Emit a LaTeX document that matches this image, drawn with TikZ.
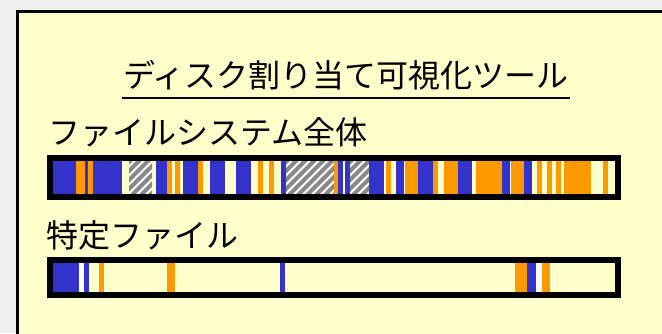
\documentclass[tikz,border=0pt]{standalone}
\usepackage{fontspec}
\usepackage{xcolor}
\newfontfamily\jpfont{Noto Sans CJK JP}
\definecolor{bg-gray}{HTML}{F0F0F0}
\definecolor{pale-yellow}{HTML}{FFFFCC}
\definecolor{used-blue}{HTML}{3333CC}
\definecolor{used-orange}{HTML}{FF9900}
\definecolor{hatch-gray}{HTML}{888888}
\tikzset{
    panel-box/.style = {draw=black, fill=pale-yellow, line width=2.25pt},
    bar-frame/.style = {draw=black, line width=4.5pt},
    seg-blue/.style = {fill=used-blue},
    seg-orange/.style = {fill=used-orange},
    seg-white/.style = {fill=white},
    hatch-line/.style = {draw=hatch-gray, line width=3pt},
    label-text/.style = {font=\jpfont\fontsize{24pt}{28pt}\selectfont, inner sep=0pt},
}

\begin{document}
\begin{tikzpicture}[x=0.75pt, y=-0.75pt]
\useasboundingbox (0,0) rectangle (662,333);
\clip (0,0) rectangle (662,333);
\fill[bg-gray] (0,0) rectangle (662,333);
\draw[panel-box] (17.5,11.5) rectangle (700,360);

% title
\node[label-text, anchor=base] (title) at (346,87) {ディスク割り当て可視化ツール};
\draw[line width=1.5pt] (122,98) -- (570,98);

% whole file system
\node[label-text, anchor=base west] (fs-label) at (48,144) {ファイルシステム全体};
\foreach \a/\b in {53/76, 85/88, 93/122, 156/167, 183/198, 210/225, 236/251, 281/286,
                   338/343, 345/350, 369/384, 396/404, 418/433, 458/472, 502/510, 524/532}
    \fill[seg-blue] (\a,161) rectangle (\b,194);
\foreach \a/\b in {76/85, 88/93, 167/172, 175/180, 198/203, 258/263, 269/274, 334/338,
                   386/391, 405/418, 433/438, 444/458, 476/502, 511/524, 537/542,
                   547/552, 556/561, 564/591, 603/608}
    \fill[seg-orange] (\a,161) rectangle (\b,194);
\foreach \a/\b in {384/386, 404/405, 510/511}
    \fill[seg-white] (\a,161) rectangle (\b,194);
\foreach \a/\b in {129/152, 286/334, 350/369} {
    \begin{scope}
        \clip (\a,161) rectangle (\b,194);
        \fill[seg-white] (\a,161) rectangle (\b,194);
        \foreach \k in {-45,-36,...,54}
            \draw[hatch-line] (\a+\k,198) -- ++(45,-45);
    \end{scope}
}
\draw[bar-frame] (50,158) rectangle (618,197);

% one file
\node[label-text, anchor=base west] (file-label) at (46,247) {特定ファイル};
\foreach \a/\b in {53/79, 84/89, 280/285, 527/536}
    \fill[seg-blue] (\a,263) rectangle (\b,292);
\foreach \a/\b in {99/104, 167/175, 515/527, 542/550}
    \fill[seg-orange] (\a,263) rectangle (\b,292);
\foreach \a/\b in {79/84, 536/542}
    \fill[seg-white] (\a,263) rectangle (\b,292);
\draw[bar-frame] (50,260) rectangle (618,295);
\end{tikzpicture}
\end{document}
